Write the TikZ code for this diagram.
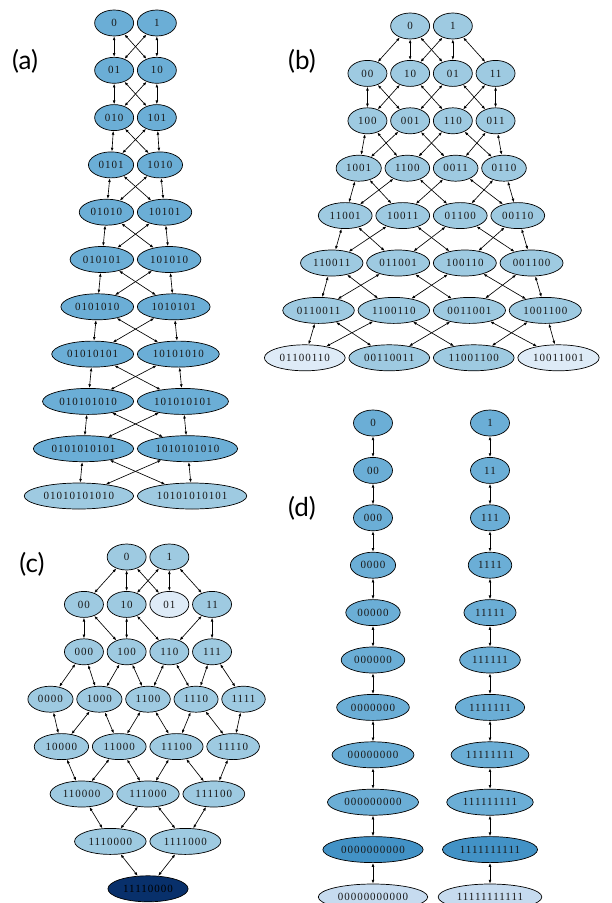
\documentclass[tikz,border=0pt]{standalone}
\usepackage{fontspec}
\setmainfont{Liberation Serif}
\newfontfamily\panelfont{Lato}
\newfontfamily\wordfamily[LetterSpace=9]{Liberation Serif}
\newcommand\wordfont{\wordfamily\fontsize{11}{12}\selectfont}
\usetikzlibrary{positioning,shapes.geometric,arrows.meta}

\definecolor{blueA}{HTML}{6BAED6}
\definecolor{blueB}{HTML}{9ECAE1}
\definecolor{blueC}{HTML}{DEEBF7}
\definecolor{blueD}{HTML}{08306B}
\definecolor{blueE}{HTML}{4292C6}
\definecolor{blueF}{HTML}{C6DBEF}

\tikzset{
  word/.style={ellipse, draw=black, line width=0.7pt, fill=blueB,
    minimum width=39pt, minimum height=26pt, inner xsep=3.5pt, inner ysep=0pt,
    font=\wordfont, text=black!90},
  link/.style={{Latex[length=3.8pt,width=2.8pt]}-{Latex[length=3.8pt,width=2.8pt]}, line width=0.65pt},
  panel/.style={font=\panelfont\fontsize{26}{30}\selectfont}
}

\begin{document}
\begin{tikzpicture}[x=1pt,y=-1pt]
\clip (0,0) rectangle (612,903);

% (a)
\node[panel] (la) at (25,61) {(a)};
\foreach \k/\l/\r/\f in {1/0/1/blueA, 2/01/10/blueA, 3/010/101/blueA, 4/0101/1010/blueA,
    5/01010/10101/blueA, 6/010101/101010/blueA, 7/0101010/1010101/blueA,
    8/01010101/10101010/blueA, 9/010101010/101010101/blueA,
    10/0101010101/1010101010/blueA, 11/01010101010/10101010101/blueB}{
  \coordinate (ac\k) at (135.5,{23+47.3*(\k-1)});
  \node[word, fill=\f, left=1.5pt of ac\k] (aL\k) {\l};
  \node[word, fill=\f, right=1.5pt of ac\k] (aR\k) {\r};
}
\foreach \k [remember=\k as \j (initially 1)] in {2,...,11}{
  \draw[link] (aL\j) -- (aL\k);
  \draw[link] (aR\j) -- (aR\k);
  \draw[link] (aL\j) -- (aR\k);
  \draw[link] (aR\j) -- (aL\k);
}

% (b)
\node[panel] (lb) at (302,61) {(b)};
\coordinate (bc0) at (431.5,26);
\node[word, left=1.5pt of bc0] (b0) {0};
\node[word, right=1.5pt of bc0] (b1) {1};
\foreach \k/\a/\b/\c/\d/\f in {1/00/10/01/11/blueB, 2/100/001/110/011/blueB,
    3/1001/1100/0011/0110/blueB, 4/11001/10011/01100/00110/blueB,
    5/110011/011001/100110/001100/blueB, 6/0110011/1100110/0011001/1001100/blueB,
    7/01100110/00110011/11001100/10011001/blueC}{
  \coordinate (bc\k) at (431.5,{26+47.4*\k});
  \node[word, left=1.5pt of bc\k] (b\b) {\b};
  \node[word, right=1.5pt of bc\k] (b\c) {\c};
  \node[word, fill=\f, left=3pt of b\b] (b\a) {\a};
  \node[word, fill=\f, right=3pt of b\c] (b\d) {\d};
}
\foreach \u/\v in {0/00, 0/10, 0/01, 1/10, 1/01, 1/11,
    00/100, 00/001, 10/100, 10/110, 01/001, 01/011, 11/110, 11/011,
    100/1001, 001/1001, 110/1100, 100/1100, 001/0011, 011/0011, 011/0110, 110/0110,
    1100/11001, 1001/11001, 1001/10011, 0011/10011, 0110/01100, 1100/01100, 0011/00110, 0110/00110,
    11001/110011, 10011/110011, 01100/011001, 11001/011001,
    10011/100110, 00110/100110, 00110/001100, 01100/001100,
    011001/0110011, 110011/0110011, 110011/1100110, 100110/1100110,
    001100/0011001, 011001/0011001, 100110/1001100, 001100/1001100,
    0110011/01100110, 1100110/01100110, 0011001/00110011, 0110011/00110011,
    1100110/11001100, 1001100/11001100, 1001100/10011001, 0011001/10011001}
  \draw[link] (b\u) -- (b\v);

% (c)
\node[panel] (lc) at (32,564) {(c)};
\foreach \k in {0,...,7}
  \coordinate (cc\k) at (148,{557+47.4*\k});
\node[word, left=1.5pt of cc0] (c0) {0};
\node[word, right=1.5pt of cc0] (c1) {1};
\node[word, left=1.5pt of cc1] (c10) {10};
\node[word, left=3pt of c10] (c00) {00};
\node[word, fill=blueC, right=1.5pt of cc1] (c01) {01};
\node[word, right=3pt of c01] (c11) {11};
\node[word, left=1.5pt of cc2] (c100) {100};
\node[word, left=3pt of c100] (c000) {000};
\node[word, right=1.5pt of cc2] (c110) {110};
\node[word, right=3pt of c110] (c111) {111};
\node[word] (c1100) at (cc3) {1100};
\node[word, left=3pt of c1100] (c1000) {1000};
\node[word, left=3pt of c1000] (c0000) {0000};
\node[word, right=3pt of c1100] (c1110) {1110};
\node[word, right=3pt of c1110] (c1111) {1111};
\node[word, left=1.5pt of cc4] (c11000) {11000};
\node[word, left=3pt of c11000] (c10000) {10000};
\node[word, right=1.5pt of cc4] (c11100) {11100};
\node[word, right=3pt of c11100] (c11110) {11110};
\node[word] (c111000) at (cc5) {111000};
\node[word, left=3pt of c111000] (c110000) {110000};
\node[word, right=3pt of c111000] (c111100) {111100};
\node[word, left=1.5pt of cc6] (c1110000) {1110000};
\node[word, right=1.5pt of cc6] (c1111000) {1111000};
\node[word, fill=blueD, text=black] (c11110000) at (cc7) {11110000};
\foreach \u/\v in {0/00, 0/10, 0/01, 1/10, 1/01, 1/11,
    00/000, 00/100, 10/100, 10/110, 11/110, 11/111,
    000/0000, 000/1000, 100/1000, 100/1100, 110/1100, 110/1110, 111/1110, 111/1111,
    0000/10000, 1000/10000, 1000/11000, 1100/11000, 1100/11100, 1110/11100, 1110/11110, 1111/11110,
    10000/110000, 11000/110000, 11000/111000, 11100/111000, 11100/111100, 11110/111100,
    110000/1110000, 111000/1110000, 111000/1111000, 111100/1111000,
    1110000/11110000, 1111000/11110000}
  \draw[link] (c\u) -- (c\v);

% (d)
\node[panel] (ld) at (302,508) {(d)};
\foreach \k/\z/\o/\f in {1/0/1/blueA, 2/00/11/blueA, 3/000/111/blueA, 4/0000/1111/blueA,
    5/00000/11111/blueA, 6/000000/111111/blueA, 7/0000000/1111111/blueA,
    8/00000000/11111111/blueA, 9/000000000/111111111/blueA,
    10/0000000000/1111111111/blueE, 11/00000000000/11111111111/blueF}{
  \node[word, fill=\f] (dz\k) at (373,{423+47.4*(\k-1)}) {\z};
  \node[word, fill=\f] (do\k) at (490,{423+47.4*(\k-1)}) {\o};
}
\foreach \k [remember=\k as \j (initially 1)] in {2,...,11}{
  \draw[link] (dz\j) -- (dz\k);
  \draw[link] (do\j) -- (do\k);
}
\end{tikzpicture}
\end{document}
